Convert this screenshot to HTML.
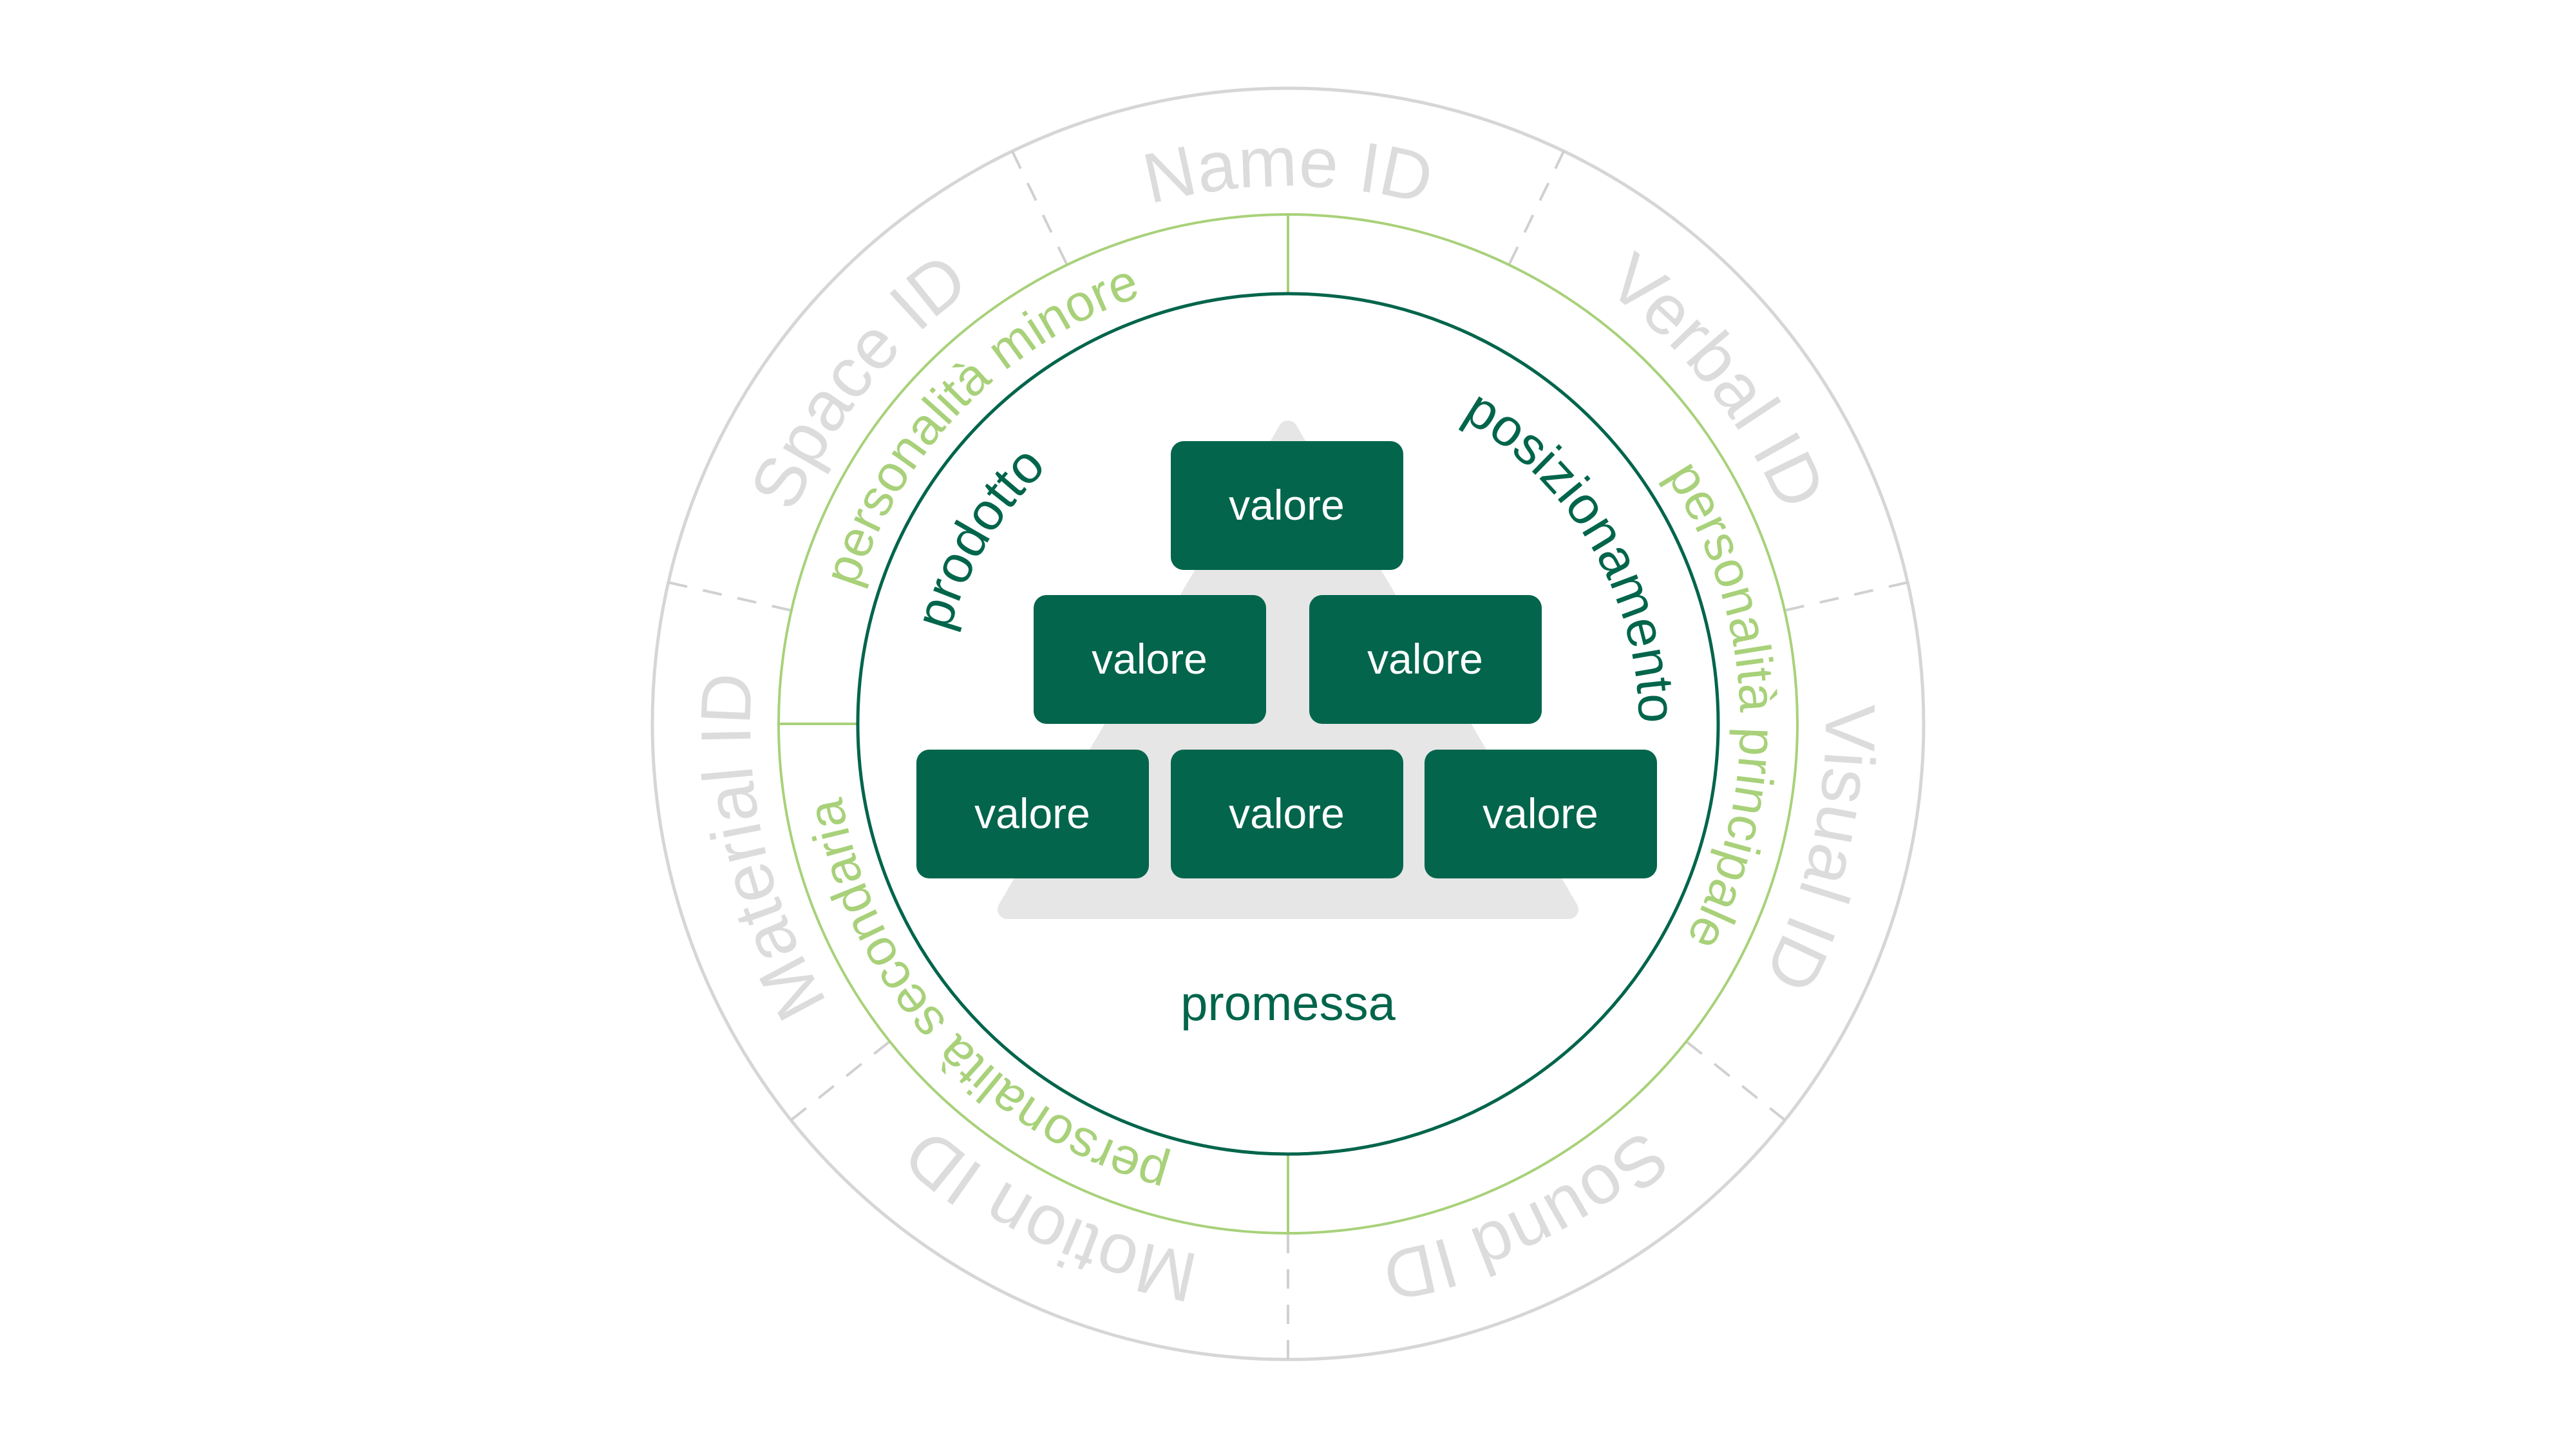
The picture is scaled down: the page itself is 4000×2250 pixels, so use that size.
<!DOCTYPE html>
<html><head><meta charset="utf-8"><style>
html,body{margin:0;padding:0;background:#fff;}
svg{display:block;}
text{font-family:"Liberation Sans",sans-serif;}
</style></head><body>
<svg width="4000" height="2250" viewBox="0 0 4000 2250" xmlns="http://www.w3.org/2000/svg">
<defs>
<path id="po" d="M2008,1963 A835,835 0 1 1 2008,293 A835,835 0 1 1 2008,1963"/>
<path id="pg" d="M2008,1830 A702,702 0 1 1 2008,426 A702,702 0 1 1 2008,1830"/>
<path id="pd" d="M2008,1673 A545,545 0 1 1 2008,583 A545,545 0 1 1 2008,1673"/>
</defs>
<g transform="translate(-8,-4)">
<circle cx="2008" cy="1128" r="987" fill="none" stroke="#d6d6d6" stroke-width="5"/>
<g stroke="#d0d0d0" stroke-width="4" stroke-dasharray="30,25">
<line x1="2008" y1="141" x2="2008" y2="337" transform="rotate(180 2008 1128)"/>
<line x1="2008" y1="141" x2="2008" y2="337" transform="rotate(231.43 2008 1128)"/>
<line x1="2008" y1="141" x2="2008" y2="337" transform="rotate(282.86 2008 1128)"/>
<line x1="2008" y1="141" x2="2008" y2="337" transform="rotate(334.29 2008 1128)"/>
<line x1="2008" y1="141" x2="2008" y2="337" transform="rotate(25.71 2008 1128)"/>
<line x1="2008" y1="141" x2="2008" y2="337" transform="rotate(77.14 2008 1128)"/>
<line x1="2008" y1="141" x2="2008" y2="337" transform="rotate(128.57 2008 1128)"/>
</g>
<circle cx="2008" cy="1128" r="791" fill="none" stroke="#a8d17a" stroke-width="4"/>
<g stroke="#a8d17a" stroke-width="4">
<line x1="2008" y1="337" x2="2008" y2="460"/>
<line x1="2008" y1="1796" x2="2008" y2="1919"/>
<line x1="1217" y1="1128" x2="1340" y2="1128"/>
</g>
<circle cx="2008" cy="1128" r="668" fill="none" stroke="#00654b" stroke-width="5"/>
<g font-size="110" fill="#dcdcdc" text-anchor="middle">
<text><textPath href="#po" startOffset="50%">Name ID</textPath></text>
<text><textPath href="#po" startOffset="64.3%">Verbal ID</textPath></text>
<text><textPath href="#po" startOffset="78.6%">Visual ID</textPath></text>
<text><textPath href="#po" startOffset="92.9%">Sound ID</textPath></text>
<text><textPath href="#po" startOffset="7.1%">Motion ID</textPath></text>
<text><textPath href="#po" startOffset="21.4%">Material ID</textPath></text>
<text><textPath href="#po" startOffset="35.7%">Space ID</textPath></text>
</g>
<g font-size="80" fill="#a8d17a" text-anchor="middle">
<text><textPath href="#pg" startOffset="37.3%">personalità minore</textPath></text>
<text><textPath href="#pg" startOffset="74.3%">personalità principale</textPath></text>
<text><textPath href="#pg" startOffset="13.3%">personalità secondaria</textPath></text>
</g>
<g font-size="82" fill="#00654b" text-anchor="middle">
<text><textPath href="#pd" startOffset="66.6%">posizionamento</textPath></text>
<text><textPath href="#pd" startOffset="33.6%">prodotto</textPath></text>
</g>
<polygon points="2008,672 1572,1416 2444,1416" fill="#e6e6e6" stroke="#e6e6e6" stroke-width="30" stroke-linejoin="round"/>
<g fill="#02654c">
<rect x="1826" y="689" width="361" height="200" rx="20"/>
<rect x="1613" y="928" width="361" height="200" rx="20"/>
<rect x="2041" y="928" width="361" height="200" rx="20"/>
<rect x="1431" y="1168" width="361" height="200" rx="20"/>
<rect x="1826" y="1168" width="361" height="200" rx="20"/>
<rect x="2220" y="1168" width="361" height="200" rx="20"/>
</g>
<g font-size="66" fill="#fff" text-anchor="middle">
<text x="2006" y="811">valore</text>
<text x="1793" y="1050">valore</text>
<text x="2221" y="1050">valore</text>
<text x="1611" y="1290">valore</text>
<text x="2006" y="1290">valore</text>
<text x="2400" y="1290">valore</text>
</g>
<text x="2008" y="1588" font-size="76" fill="#00654b" text-anchor="middle">promessa</text>
</g>
</svg>
</body></html>
